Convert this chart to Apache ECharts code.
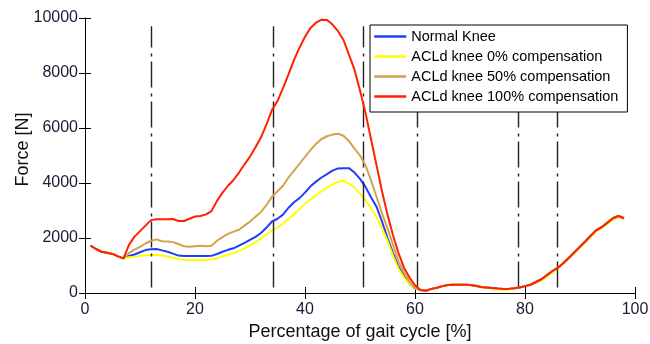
<!DOCTYPE html>
<html><head><meta charset="utf-8">
<script src="https://cdn.jsdelivr.net/npm/echarts@6/dist/echarts.min.js"></script>
<style>html,body{margin:0;padding:0;background:#fff}#c{width:650px;height:344px}</style>
</head><body><div id="c"></div>
<script>
// x = gait cycle percentage; stance arrays cover x = 8..60, swing arrays x = 61..98, common start x = 1..7
const seriesNames = ['Normal Knee','ACLd knee 0% compensation','ACLd knee 50% compensation','ACLd knee 100% compensation'];
const startX = 1;
const commonStart = [1720,1600,1500,1460,1420,1330,1260];
const blueStance = [1345,1400,1480,1560,1590,1600,1550,1500,1430,1360,1345,1345,1345,1345,1345,1350,1420,1500,1570,1625,1720,1820,1930,2040,2180,2380,2600,2700,2850,3100,3300,3450,3650,3880,4050,4200,4320,4450,4530,4540,4540,4380,4150,3860,3480,3140,2600,2000,1450,950,620,330,160];
const yellowStance = [1300,1320,1350,1370,1380,1390,1360,1330,1280,1230,1200,1200,1200,1200,1210,1220,1260,1330,1390,1440,1530,1620,1730,1850,1990,2130,2280,2380,2520,2700,2850,3050,3250,3400,3560,3700,3830,3950,4040,4080,3980,3830,3620,3380,3080,2775,2350,1900,1350,880,560,320,170];
const tanStance = [1450,1580,1680,1800,1900,1950,1880,1870,1850,1780,1700,1680,1700,1720,1700,1720,1900,2030,2150,2230,2300,2450,2600,2770,2950,3200,3500,3700,3900,4200,4450,4700,4950,5200,5420,5600,5700,5760,5790,5720,5520,5250,5000,4650,4100,3500,2900,2350,1750,1150,750,400,170];
const redStance = [1750,2050,2250,2450,2650,2680,2680,2680,2690,2620,2620,2700,2780,2800,2860,2980,3350,3650,3900,4110,4380,4680,4960,5300,5660,6130,6660,6980,7450,7950,8480,8920,9320,9640,9830,9940,9930,9760,9520,9200,8660,8120,7360,6550,5600,4650,3700,2850,2100,1450,920,560,280];
const swingRed = [110,80,150,190,250,290,300,300,300,290,260,220,200,180,160,150,150,170,200,250,300,400,500,650,800,920,1090,1280,1480,1680,1880,2090,2290,2400,2560,2720,2800,2720];
const swingYellow = [110,80,150,190,250,290,300,300,300,290,260,220,200,160,130,120,130,170,200,250,300,380,460,600,760,900,1070,1270,1470,1660,1860,2070,2270,2380,2520,2670,2760,2700];
const eventX = [12.0, 34.2, 50.6, 60.4, 78.7, 85.9];
const eventRange = [200, 9700];
const colors = ['#1f3cff','#ffff00','#d2a24c','#ff2200'];

function build(stance, swing){
  const ys = commonStart.concat(stance, swing);
  return ys.map((y,i)=>[startX+i, y]);
}
const datasets = [
  build(blueStance, swingRed),
  build(yellowStance, swingYellow),
  build(tanStance, swingRed),
  build(redStance, swingRed)
];

const font = '"Liberation Sans", Arial, sans-serif';
const chart = echarts.init(document.getElementById('c'), null, {renderer:'canvas'});
const series = seriesNames.map((n,i)=>({
  name:n, type:'line', data:datasets[i], symbol:'none', showSymbol:false,
  lineStyle:{width:2, color:colors[i]}, itemStyle:{color:colors[i]}, z:3+i, animation:false
}));
series.unshift({
  name:'events', type:'line', data:[], symbol:'none', silent:true, z:2, animation:false,
  markLine:{
    symbol:'none', silent:true, animation:false, label:{show:false},
    lineStyle:{color:'#222', width:1.4, type:[26,5,3,6]},
    emphasis:{disabled:true},
    data: eventX.map(x=>[{coord:[x,eventRange[0]]},{coord:[x,eventRange[1]]}])
  }
});
const plainNum = v => String(v);
chart.setOption({
  animation:false,
  backgroundColor:'#fff',
  grid:{left:85, right:15, top:18, bottom:51, containLabel:false, outerBoundsMode:'none'},
  legend:{
    data:seriesNames, orient:'vertical', left:370, top:25,
    padding:[4,9,8,3], itemGap:5, itemWidth:32, itemHeight:14,
    backgroundColor:'#fff', borderColor:'#000', borderWidth:1,
    itemStyle:{opacity:0, borderWidth:0},
    lineStyle:{width:2.5},
    textStyle:{fontFamily:font, fontSize:14.5, color:'#000'}, z:10
  },
  xAxis:[{
    type:'value', min:0, max:100, interval:20, position:'bottom',
    name:'Percentage of gait cycle [%]', nameLocation:'middle', nameGap:28,
    nameTextStyle:{fontFamily:font, fontSize:18, color:'#111'},
    axisLine:{show:true, lineStyle:{color:'#000', width:1}},
    axisTick:{show:true, inside:true, length:6, lineStyle:{color:'#000'}},
    axisLabel:{fontFamily:font, fontSize:16, color:'#1a1a33', margin:9, formatter:plainNum},
    splitLine:{show:false}
  },{
    type:'value', min:0, max:100, interval:20, position:'top',
    axisLine:{show:true, lineStyle:{color:'#000', width:1}},
    axisTick:{show:true, inside:true, length:6, lineStyle:{color:'#000'}},
    axisLabel:{show:false}, splitLine:{show:false}
  }],
  yAxis:[{
    type:'value', min:0, max:10000, interval:2000, position:'left',
    name:'Force [N]', nameLocation:'middle', nameGap:53, nameMoveOverlap:false,
    nameTextStyle:{fontFamily:font, fontSize:18, color:'#111', padding:[0,0,0,12]},
    axisLine:{show:true, lineStyle:{color:'#000', width:1}},
    axisTick:{show:true, inside:true, length:6, lineStyle:{color:'#000'}},
    axisLabel:{fontFamily:font, fontSize:16, color:'#1a1a33', margin:7, formatter:plainNum},
    splitLine:{show:false}
  },{
    type:'value', min:0, max:10000, interval:2000, position:'right',
    axisLine:{show:true, lineStyle:{color:'#000', width:1}},
    axisTick:{show:true, inside:true, length:6, lineStyle:{color:'#000'}},
    axisLabel:{show:false}, splitLine:{show:false}
  }],
  series: series
});
</script></body></html>
